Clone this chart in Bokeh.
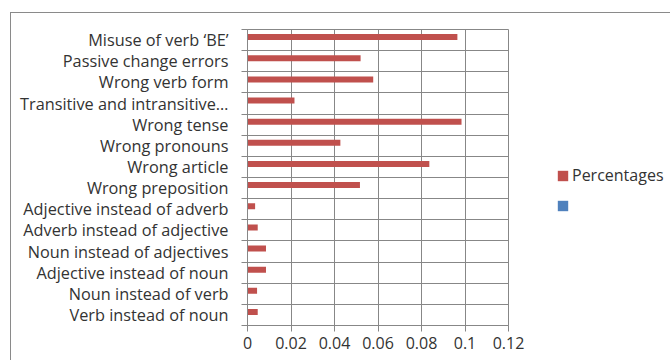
import numpy as np
from bokeh.plotting import figure
from bokeh.models import FixedTicker, Legend, LegendItem, Range1d, ColumnDataSource, InlineStyleSheet
from bokeh.core.properties import value
from bokeh.embed import file_html
from bokeh.resources import INLINE

# Categories listed top to bottom as shown
categories = [
    "Misuse of verb \u2018BE\u2019",
    "Passive change errors",
    "Wrong verb form",
    "Transitive and intransitive\u2026",
    "Wrong tense",
    "Wrong pronouns",
    "Wrong article",
    "Wrong preposition",
    "Adjective instead of adverb",
    "Adverb instead of adjective",
    "Noun instead of adjectives",
    "Adjective instead of noun",
    "Noun instead of verb",
    "Verb instead of noun",
]
percentages = [0.0965, 0.052, 0.0578, 0.0216, 0.0984, 0.0427, 0.0836,
               0.0517, 0.0035, 0.0047, 0.0085, 0.0085, 0.0044, 0.0047]
# second series of the source chart is blank (no values)
blank_series = [np.nan] * len(categories)
x_ticks = [0, 0.02, 0.04, 0.06, 0.08, 0.1, 0.12]
x_tick_labels = ["0", "0.02", "0.04", "0.06", "0.08", "0.1", "0.12"]

n = len(categories)
centers = [n - i - 0.5 for i in range(n)]
bar_y = [c + 0.14 for c in centers]
bar_y2 = [c - 0.14 for c in centers]

FONT = "Open Sans"
TXT = "#333333"
GRID = "#878787"

p = figure(frame_width=261, frame_height=296,
           x_range=Range1d(0, 0.12), y_range=Range1d(0, n),
           output_backend="svg", toolbar_location=None,
           min_border_left=247, min_border_right=162,
           min_border_top=29, min_border_bottom=35)
p.background_fill_color = "white"
p.border_fill_color = "white"
p.outline_line_color = GRID

src = ColumnDataSource(dict(y=bar_y, right=percentages, cat=categories))
r1 = p.hbar(y="y", right="right", left=0, height=0.285, source=src,
            fill_color="#C0504D", line_color=None)
src2 = ColumnDataSource(dict(y=bar_y2, right=np.array(blank_series)))
r2 = p.hbar(y="y", right="right", left=0, height=0.285, source=src2,
            fill_color="#4F81BD", line_color=None)

# x axis
p.xaxis.ticker = FixedTicker(ticks=x_ticks)
p.xaxis.major_label_overrides = {t: l for t, l in zip(x_ticks, x_tick_labels)}
p.xaxis.major_tick_out = 6
p.xaxis.major_tick_in = 0
p.xaxis.minor_tick_out = 0
p.xaxis.axis_line_color = GRID
p.xaxis.major_tick_line_color = GRID
p.xaxis.major_label_text_font = FONT
p.xaxis.major_label_text_font_size = "16px"
p.xaxis.major_label_text_color = TXT
p.xaxis.major_label_standoff = 5

# y axis
p.yaxis.ticker = FixedTicker(ticks=centers, minor_ticks=list(range(n + 1)))
p.yaxis.major_label_overrides = {c: l for c, l in zip(centers, categories)}
p.yaxis.major_tick_out = 0
p.yaxis.major_tick_in = 0
p.yaxis.minor_tick_out = 6
p.yaxis.minor_tick_in = 0
p.yaxis.minor_tick_line_color = GRID
p.yaxis.axis_line_color = GRID
p.yaxis.major_label_text_font = FONT
p.yaxis.major_label_text_font_size = "16.3px"
p.yaxis.major_label_text_color = TXT
p.yaxis.major_label_standoff = 13

p.xgrid.ticker = FixedTicker(ticks=x_ticks)
p.xgrid.grid_line_color = GRID
p.ygrid.ticker = FixedTicker(ticks=list(range(n + 1)))
p.ygrid.grid_line_color = GRID

legend = Legend(items=[LegendItem(label=value("Percentages"), renderers=[r1]),
                       LegendItem(label=value(""), renderers=[r2])],
                location=(48, 113), padding=0, margin=0, spacing=12,
                glyph_width=13, glyph_height=13, label_standoff=3,
                label_text_font=FONT, label_text_font_size="16px",
                label_text_color=TXT, label_height=14,
                border_line_color=None, background_fill_alpha=0)
p.add_layout(legend, "right")

p.stylesheets = [InlineStyleSheet(css="""
:host { position: relative; }
:host::after {
  content: ""; position: absolute; left: 10px; top: 12px;
  width: 720px; height: 420px; border: 1.5px solid #8a8a8a;
  pointer-events: none; box-sizing: border-box;
}
""")]

open("out.html", "w").write(file_html(p, INLINE))
